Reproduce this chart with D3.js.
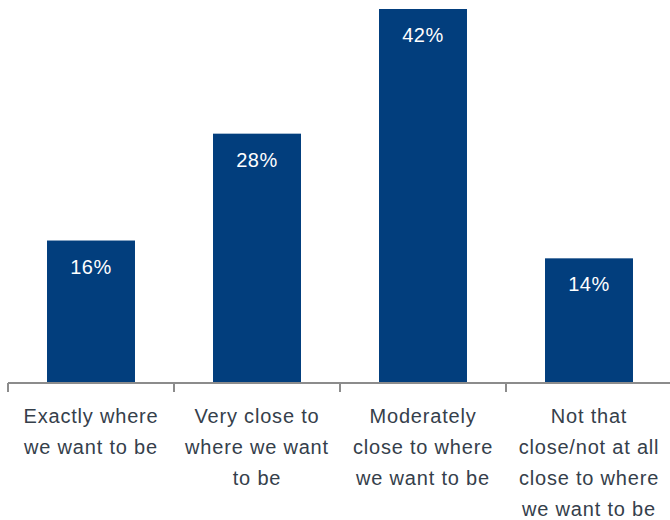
<!DOCTYPE html>
<head lang="en">
<meta charset="utf-8">
<title>Bar chart</title>
<style>
body { margin: 0; background: #fff; }
* { font-family: "Liberation Sans", "DejaVu Sans", sans-serif; }
</style>
<script src="https://cdn.jsdelivr.net/npm/d3@7"></script>
</head>
<body>
<script>
// categories (each one split into its wrapped lines) and values in %
var categories = ["Exactly where we want to be", "Very close to where we want to be",
                  "Moderately close to where we want to be", "Not that close/not at all close to where we want to be"];
var labelLines = [["Exactly where", "we want to be"],
                  ["Very close to", "where we want", "to be"],
                  ["Moderately", "close to where", "we want to be"],
                  ["Not that", "close/not at all", "close to where", "we want to be"]];
var values = [16, 28, 42, 14];

var width = 670, height = 520;
var baseY = 383;

var svg = d3.select("body").append("svg")
    .attr("width", width)
    .attr("height", height);

var x = d3.scaleBand()
    .domain(categories)
    .range([8, 672]);

var y = d3.scaleLinear()
    .domain([0, 42])
    .range([baseY, 9]);

var barW = x.bandwidth() * 0.53;

svg.selectAll("rect.bar")
    .data(values)
    .enter()
    .append("rect")
        .attr("class", "bar")
        .attr("x", function(d, i) { return x(categories[i]) + (x.bandwidth() - barW) / 2; })
        .attr("y", function(d) { return y(d); })
        .attr("width", barW)
        .attr("height", function(d) { return baseY - y(d); })
        .style("fill", "#023e7d");

svg.selectAll("text.val")
    .data(values)
    .enter()
    .append("text")
        .attr("class", "val")
        .attr("x", function(d, i) { return x(categories[i]) + x.bandwidth() / 2; })
        .attr("y", function(d) { return y(d) + 33; })
        .attr("text-anchor", "middle")
        .style("fill", "#fff")
        .style("font-size", "20px")
        .style("letter-spacing", "0.5px")
        .text(function(d) { return d + "%"; });

// axis line with ticks at band edges
var axis = svg.append("g");
axis.append("line")
    .attr("x1", 8).attr("x2", 672)
    .attr("y1", baseY).attr("y2", baseY)
    .style("stroke", "#8c8c8c").style("stroke-width", 2);
axis.selectAll("line.tick")
    .data(categories)
    .enter()
    .append("line")
        .attr("class", "tick")
        .attr("x1", function(d) { return x(d); })
        .attr("x2", function(d) { return x(d); })
        .attr("y1", baseY).attr("y2", baseY + 9)
        .style("stroke", "#8c8c8c").style("stroke-width", 2);

svg.selectAll("text.cat")
    .data(labelLines)
    .enter()
    .append("text")
        .attr("class", "cat")
        .attr("text-anchor", "middle")
        .style("fill", "#35404b")
        .style("font-size", "20px")
        .style("letter-spacing", "0.8px")
        .each(function(lines, i) {
            var t = d3.select(this);
            lines.forEach(function(s, j) {
                t.append("tspan")
                    .attr("x", x(categories[i]) + x.bandwidth() / 2)
                    .attr("y", 423 + j * 31)
                    .text(s);
            });
        });
</script>
</body>
</html>
